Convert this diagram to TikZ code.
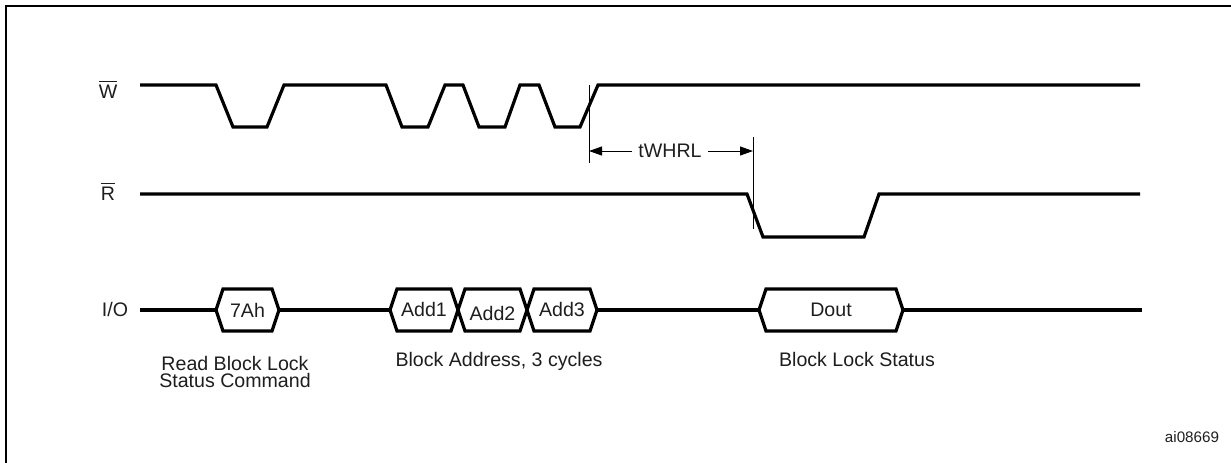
\documentclass[tikz,border=0pt]{standalone}
\usepackage{fontspec}
\setmainfont{Liberation Sans}
\usetikzlibrary{arrows.meta}
\definecolor{ink}{HTML}{1E1E1E}
\tikzset{
  wave/.style={line width=1.6pt, line join=miter, black},
  frameline/.style={line width=1.2pt, black},
  guide/.style={line width=0.5pt, black},
  dimarrow/.style={line width=0.5pt, black, -{Triangle[length=6.5pt,width=4.5pt]}},
  lbl/.style={inner sep=0pt, text=ink, font=\fontsize{9.8}{8.5}\selectfont},
  small/.style={inner sep=0pt, text=ink, font=\fontsize{7.6}{9}\selectfont},
}
\newcommand\busbox[5]{%
  \draw[wave] (#2,310) -- (#2+7,289) -- (#3-7,289) -- (#3,310) -- (#3-7,331) -- (#2+7,331) -- cycle;
  \coordinate (#1-w) at (#2,310);
  \coordinate (#1-e) at (#3,310);
  \node[lbl] (#1) at ({(#2+#3)/2},310+#5) {#4};
}
\begin{document}
\begin{tikzpicture}[x=0.5pt,y=-0.5pt]
\useasboundingbox (0,0) rectangle (1231,462);
% frame (cut off at right and bottom)
\draw[frameline] (6,470) -- (6,6) -- (1240,6);

% signal labels
\node[lbl, anchor=base] (lW) at (108,98) {$\overline{\mbox{W}}$};
\node[lbl, anchor=base] (lR) at (108,200) {$\overline{\mbox{R}}$};
\node[lbl, anchor=base] (lIO) at (115,316) {I/O};

% W waveform
\draw[wave] (140,85) -- (216,85) -- (233,127) -- (267,127) -- (284,85) -- (386,85)
  -- (402,127) -- (428,127) -- (445,85) -- (463,85) -- (479,127) -- (505,127)
  -- (520,85) -- (539,85) -- (555,127) -- (580,127) -- (598,85) -- (1140,85);

% R waveform
\draw[wave] (140,194) -- (747,194) -- (763,237) -- (864,237) -- (879,194) -- (1140,194);

% timing tWHRL
\coordinate (g1t) at (589,85);
\coordinate (g1b) at (589,163);
\coordinate (g2t) at (753,137);
\coordinate (g2b) at (753,229);
\draw[guide] (g1t) -- (g1b);
\draw[guide] (g2t) -- (g2b);
\node[lbl] (tw) at (670,151) {tWHRL};
\coordinate (a1) at (589,151);
\coordinate (a2) at (753,151);
\draw[dimarrow] (tw.west) ++(-6,0) -- (a1);
\draw[dimarrow] (tw.east) ++(6,0) -- (a2);

% I/O bus
\busbox{c7A}{216}{279}{7Ah}{0}
\busbox{ad1}{390}{458}{Add1}{-1}
\busbox{ad2}{458}{527}{Add2}{3}
\busbox{ad3}{527}{597}{Add3}{-1}
\busbox{dout}{759}{903}{Dout}{0}
\coordinate (ioS) at (140,310);
\coordinate (ioE) at (1142,310);
\draw[wave] (ioS) -- (c7A-w);
\draw[wave] (c7A-e) -- (ad1-w);
\draw[wave] (ad3-e) -- (dout-w);
\draw[wave] (dout-e) -- (ioE);

% captions
\node[lbl, anchor=base, align=center] (cap1) at (235,387) {Read Block Lock\\Status Command};
\node[lbl, anchor=base] (cap2) at (499,366) {Block Address, 3 cycles};
\node[lbl, anchor=base] (cap3) at (857,366) {Block Lock Status};
\node[small, anchor=base] (ref) at (1192,442) {ai08669};
\end{tikzpicture}
\end{document}
